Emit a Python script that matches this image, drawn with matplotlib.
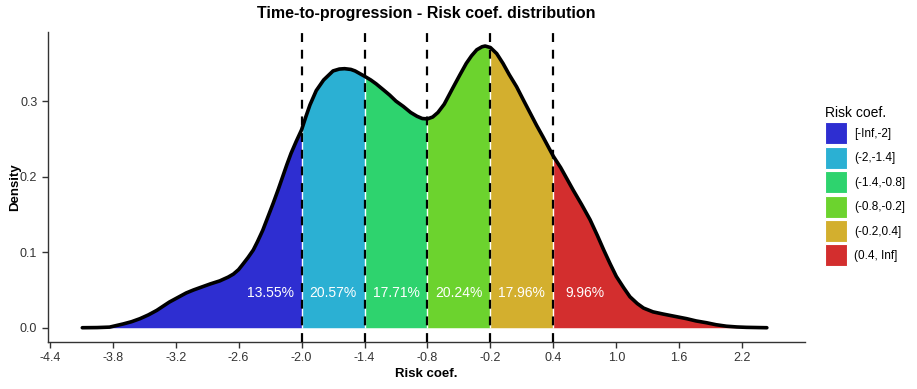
import matplotlib
matplotlib.use("Agg")
import matplotlib.pyplot as plt
from matplotlib.patches import Patch
import numpy as np

# density curve
risk = [-4.09, -3.95, -3.83, -3.70, -3.62, -3.54, -3.46, -3.38, -3.26, -3.18,
        -3.10, -3.03, -2.97, -2.87, -2.78, -2.70, -2.65, -2.60, -2.56, -2.51,
        -2.46, -2.42, -2.37, -2.32, -2.27, -2.22, -2.18, -2.14, -2.10, -2.05,
        -2.00, -1.96, -1.92, -1.86, -1.79, -1.70, -1.64, -1.59, -1.53, -1.49,
        -1.40, -1.34, -1.29, -1.22, -1.16, -1.10, -1.03, -0.96, -0.90, -0.85,
        -0.80, -0.75, -0.70, -0.64, -0.56, -0.49, -0.43, -0.38, -0.33, -0.28,
        -0.25, -0.20, -0.14, -0.08, -0.02, 0.05, 0.12, 0.18, 0.24, 0.30,
        0.35, 0.40, 0.47, 0.53, 0.59, 0.67, 0.75, 0.82, 0.88, 0.94,
        1.00, 1.07, 1.13, 1.20, 1.26, 1.35, 1.45, 1.56, 1.67, 1.76,
        1.86, 1.95, 2.05, 2.15, 2.24, 2.435]
density = [0.0, 0.0002, 0.0008, 0.005, 0.008, 0.012, 0.017, 0.023, 0.034, 0.040,
           0.046, 0.050, 0.053, 0.058, 0.062, 0.067, 0.071, 0.077, 0.084, 0.093,
           0.103, 0.114, 0.129, 0.147, 0.165, 0.184, 0.200, 0.216, 0.231, 0.247,
           0.262, 0.279, 0.295, 0.314, 0.328, 0.340, 0.3425, 0.343, 0.342, 0.340,
           0.333, 0.328, 0.323, 0.315, 0.308, 0.300, 0.293, 0.285, 0.280, 0.277,
           0.2765, 0.279, 0.285, 0.296, 0.317, 0.335, 0.350, 0.360, 0.368, 0.372,
           0.373, 0.371, 0.363, 0.350, 0.335, 0.319, 0.300, 0.284, 0.268, 0.253,
           0.240, 0.227, 0.212, 0.197, 0.182, 0.163, 0.143, 0.122, 0.103, 0.085,
           0.068, 0.053, 0.041, 0.032, 0.026, 0.021, 0.018, 0.015, 0.012, 0.009,
           0.0066, 0.004, 0.002, 0.001, 0.0005, 0.0]

breaks = [-2.0, -1.4, -0.8, -0.2, 0.4]
labels = ["[-Inf,-2]", "(-2,-1.4]", "(-1.4,-0.8]", "(-0.8,-0.2]", "(-0.2,0.4]", "(0.4, Inf]"]
colors = ["#2E2ED1", "#2BB0D3", "#2ED36E", "#6CD32E", "#D3AF2E", "#D32E2E"]
pct = ["13.55%", "20.57%", "17.71%", "20.24%", "17.96%", "9.96%"]
pct_x = [-2.3, -1.7, -1.1, -0.5, 0.1, 0.7]
xticks = [-4.4, -3.8, -3.2, -2.6, -2.0, -1.4, -0.8, -0.2, 0.4, 1.0, 1.6, 2.2]

x = np.array(risk)
y = np.array(density)

fig = plt.figure(figsize=(9.17, 3.89), dpi=100)
ax = fig.add_axes([0.052, 0.1216, 0.826, 0.797])

edges = [-np.inf] + breaks + [np.inf]
for i in range(6):
    m = (x >= edges[i]) & (x <= edges[i + 1])
    ax.fill_between(x[m], 0, y[m], color=colors[i], lw=0)

# thin white seams between the coloured areas
for b in breaks:
    ax.vlines(b, 0, y[x == b][0], color="white", lw=1.0, zorder=2)
    ax.axvline(b, color="black", lw=1.6, ls=(0, (4, 3.5)), zorder=3)

ax.plot(x, y, color="black", lw=2.6, zorder=4, solid_capstyle="round", solid_joinstyle="round")

for px, t in zip(pct_x, pct):
    ax.text(px, 0.046, t, color="white", fontsize=10, ha="center", va="center",
            family="Liberation Sans", zorder=5)

ax.set_xlim(-4.42, 2.80)
ax.set_ylim(-0.0185, 0.392)
ax.set_xticks(xticks)
ax.set_xticklabels([f"{v:.1f}" for v in xticks])
ax.set_yticks([0.0, 0.1, 0.2, 0.3])
ax.set_yticklabels(["0.0", "0.1", "0.2", "0.3"])
for s in ["top", "right"]:
    ax.spines[s].set_visible(False)
for s in ["left", "bottom"]:
    ax.spines[s].set_color("#333333")
    ax.spines[s].set_linewidth(1.0)
ax.tick_params(axis="both", length=4, width=1, color="#333333", labelcolor="#333333",
               labelsize=9)
for lab in ax.get_xticklabels() + ax.get_yticklabels():
    lab.set_family("Liberation Sans")

ax.set_xlabel("Risk coef.", fontsize=9.5, fontweight="bold", family="Liberation Sans", labelpad=3)
ax.set_ylabel("Density", fontsize=9.5, fontweight="bold", family="Liberation Sans", labelpad=-1)
fig.suptitle("Time-to-progression - Risk coef. distribution", fontsize=11.5, fontweight="bold",
             family="Liberation Sans", x=0.465, y=0.985)

handles = [Patch(facecolor=c, edgecolor="white", lw=0.8) for c in colors]
leg = fig.legend(handles, labels, title="Risk coef.", loc="upper left",
                 bbox_to_anchor=(0.895, 0.74), frameon=False,
                 title_fontsize=10, handlelength=1.8, handleheight=2.5,
                 labelspacing=0.2, handletextpad=0.6, borderaxespad=0,
                 prop={"family": "Liberation Sans", "size": 8.5})
leg._legend_box.align = "left"
leg.get_title().set_family("Liberation Sans")

fig.savefig("out.png", dpi=100)
